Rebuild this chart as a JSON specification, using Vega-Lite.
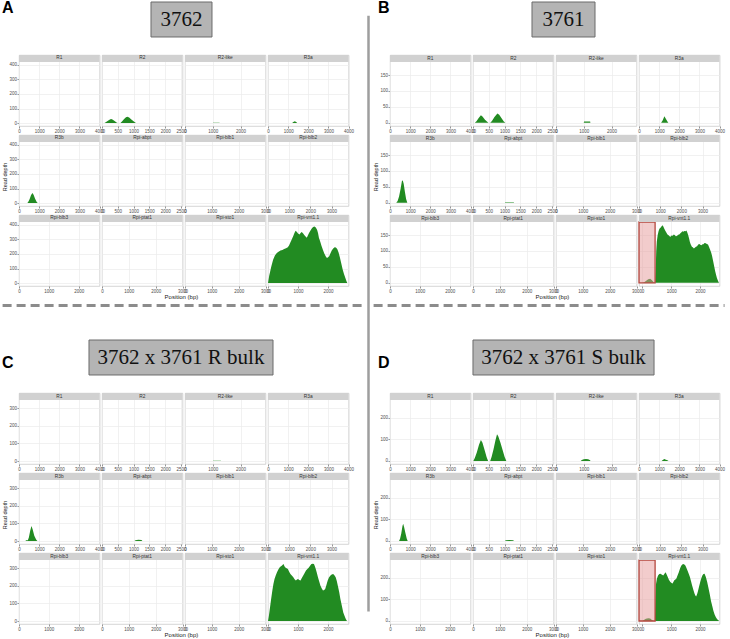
{
"$schema": "https://vega.github.io/schema/vega-lite/v6.json",
"padding": {"left": 1, "top": 0, "right": 0, "bottom": 0},
"background": "white",
"datasets": {
"A": [
{"gene":"R1","pos":0,"depth":0},{"gene":"R1","pos":4000,"depth":0},
{"gene":"R2","pos":0,"depth":0},{"gene":"R2","pos":80,"depth":0},{"gene":"R2","pos":130,"depth":8},{"gene":"R2","pos":200,"depth":18},{"gene":"R2","pos":250,"depth":25},{"gene":"R2","pos":287,"depth":28},{"gene":"R2","pos":330,"depth":25},{"gene":"R2","pos":400,"depth":14},{"gene":"R2","pos":460,"depth":4},{"gene":"R2","pos":494,"depth":0},{"gene":"R2","pos":586,"depth":0},{"gene":"R2","pos":640,"depth":12},{"gene":"R2","pos":700,"depth":28},{"gene":"R2","pos":760,"depth":40},{"gene":"R2","pos":805,"depth":43},{"gene":"R2","pos":860,"depth":38},{"gene":"R2","pos":930,"depth":25},{"gene":"R2","pos":1000,"depth":12},{"gene":"R2","pos":1060,"depth":3},{"gene":"R2","pos":1092,"depth":0},{"gene":"R2","pos":2550,"depth":0},
{"gene":"R2-like","pos":0,"depth":0},{"gene":"R2-like","pos":1000,"depth":0},{"gene":"R2-like","pos":1010,"depth":2},{"gene":"R2-like","pos":1240,"depth":2},{"gene":"R2-like","pos":1250,"depth":0},{"gene":"R2-like","pos":2900,"depth":0},
{"gene":"R3a","pos":0,"depth":0},{"gene":"R3a","pos":1200,"depth":0},{"gene":"R3a","pos":1260,"depth":8},{"gene":"R3a","pos":1330,"depth":13},{"gene":"R3a","pos":1400,"depth":8},{"gene":"R3a","pos":1450,"depth":0},{"gene":"R3a","pos":4000,"depth":0},
{"gene":"R3b","pos":0,"depth":0},{"gene":"R3b","pos":410,"depth":0},{"gene":"R3b","pos":450,"depth":5},{"gene":"R3b","pos":520,"depth":25},{"gene":"R3b","pos":600,"depth":55},{"gene":"R3b","pos":670,"depth":69},{"gene":"R3b","pos":730,"depth":55},{"gene":"R3b","pos":800,"depth":30},{"gene":"R3b","pos":880,"depth":8},{"gene":"R3b","pos":930,"depth":0},{"gene":"R3b","pos":4000,"depth":0},
{"gene":"Rpi-abpt","pos":0,"depth":0},{"gene":"Rpi-abpt","pos":2550,"depth":0},
{"gene":"Rpi-blb1","pos":0,"depth":0},{"gene":"Rpi-blb1","pos":3000,"depth":0},
{"gene":"Rpi-blb2","pos":0,"depth":0},{"gene":"Rpi-blb2","pos":3800,"depth":0},
{"gene":"Rpi-blb3","pos":0,"depth":0},{"gene":"Rpi-blb3","pos":2700,"depth":0},
{"gene":"Rpi-ptat1","pos":0,"depth":0},{"gene":"Rpi-ptat1","pos":3000,"depth":0},
{"gene":"Rpi-sto1","pos":0,"depth":0},{"gene":"Rpi-sto1","pos":3000,"depth":0},
{"gene":"Rpi-vnt1.1","pos":0,"depth":0},{"gene":"Rpi-vnt1.1","pos":40,"depth":50},{"gene":"Rpi-vnt1.1","pos":110,"depth":114},{"gene":"Rpi-vnt1.1","pos":170,"depth":160},{"gene":"Rpi-vnt1.1","pos":230,"depth":190},{"gene":"Rpi-vnt1.1","pos":293,"depth":207},{"gene":"Rpi-vnt1.1","pos":350,"depth":215},{"gene":"Rpi-vnt1.1","pos":415,"depth":224},{"gene":"Rpi-vnt1.1","pos":480,"depth":228},{"gene":"Rpi-vnt1.1","pos":537,"depth":235},{"gene":"Rpi-vnt1.1","pos":600,"depth":240},{"gene":"Rpi-vnt1.1","pos":660,"depth":246},{"gene":"Rpi-vnt1.1","pos":700,"depth":258},{"gene":"Rpi-vnt1.1","pos":744,"depth":279},{"gene":"Rpi-vnt1.1","pos":790,"depth":300},{"gene":"Rpi-vnt1.1","pos":841,"depth":323},{"gene":"Rpi-vnt1.1","pos":880,"depth":345},{"gene":"Rpi-vnt1.1","pos":920,"depth":360},{"gene":"Rpi-vnt1.1","pos":963,"depth":352},{"gene":"Rpi-vnt1.1","pos":1000,"depth":340},{"gene":"Rpi-vnt1.1","pos":1049,"depth":334},{"gene":"Rpi-vnt1.1","pos":1085,"depth":345},{"gene":"Rpi-vnt1.1","pos":1122,"depth":352},{"gene":"Rpi-vnt1.1","pos":1165,"depth":342},{"gene":"Rpi-vnt1.1","pos":1207,"depth":330},{"gene":"Rpi-vnt1.1","pos":1250,"depth":320},{"gene":"Rpi-vnt1.1","pos":1293,"depth":312},{"gene":"Rpi-vnt1.1","pos":1330,"depth":328},{"gene":"Rpi-vnt1.1","pos":1366,"depth":345},{"gene":"Rpi-vnt1.1","pos":1410,"depth":360},{"gene":"Rpi-vnt1.1","pos":1451,"depth":374},{"gene":"Rpi-vnt1.1","pos":1500,"depth":385},{"gene":"Rpi-vnt1.1","pos":1549,"depth":389},{"gene":"Rpi-vnt1.1","pos":1590,"depth":382},{"gene":"Rpi-vnt1.1","pos":1634,"depth":367},{"gene":"Rpi-vnt1.1","pos":1665,"depth":345},{"gene":"Rpi-vnt1.1","pos":1695,"depth":312},{"gene":"Rpi-vnt1.1","pos":1740,"depth":285},{"gene":"Rpi-vnt1.1","pos":1780,"depth":257},{"gene":"Rpi-vnt1.1","pos":1830,"depth":228},{"gene":"Rpi-vnt1.1","pos":1878,"depth":202},{"gene":"Rpi-vnt1.1","pos":1920,"depth":185},{"gene":"Rpi-vnt1.1","pos":1963,"depth":172},{"gene":"Rpi-vnt1.1","pos":2000,"depth":178},{"gene":"Rpi-vnt1.1","pos":2037,"depth":185},{"gene":"Rpi-vnt1.1","pos":2080,"depth":205},{"gene":"Rpi-vnt1.1","pos":2122,"depth":224},{"gene":"Rpi-vnt1.1","pos":2170,"depth":238},{"gene":"Rpi-vnt1.1","pos":2220,"depth":246},{"gene":"Rpi-vnt1.1","pos":2260,"depth":244},{"gene":"Rpi-vnt1.1","pos":2305,"depth":235},{"gene":"Rpi-vnt1.1","pos":2350,"depth":210},{"gene":"Rpi-vnt1.1","pos":2390,"depth":180},{"gene":"Rpi-vnt1.1","pos":2440,"depth":135},{"gene":"Rpi-vnt1.1","pos":2488,"depth":92},{"gene":"Rpi-vnt1.1","pos":2530,"depth":62},{"gene":"Rpi-vnt1.1","pos":2573,"depth":37},{"gene":"Rpi-vnt1.1","pos":2610,"depth":15},{"gene":"Rpi-vnt1.1","pos":2640,"depth":0},{"gene":"Rpi-vnt1.1","pos":2680,"depth":0}
],
"B": [
{"gene":"R1","pos":0,"depth":0},{"gene":"R1","pos":4000,"depth":0},
{"gene":"R2","pos":0,"depth":0},{"gene":"R2","pos":57,"depth":0},{"gene":"R2","pos":110,"depth":5},{"gene":"R2","pos":180,"depth":15},{"gene":"R2","pos":250,"depth":24},{"gene":"R2","pos":300,"depth":20},{"gene":"R2","pos":380,"depth":10},{"gene":"R2","pos":450,"depth":3},{"gene":"R2","pos":489,"depth":0},{"gene":"R2","pos":545,"depth":0},{"gene":"R2","pos":600,"depth":6},{"gene":"R2","pos":680,"depth":18},{"gene":"R2","pos":773,"depth":29},{"gene":"R2","pos":830,"depth":25},{"gene":"R2","pos":900,"depth":15},{"gene":"R2","pos":970,"depth":5},{"gene":"R2","pos":1023,"depth":0},{"gene":"R2","pos":2550,"depth":0},
{"gene":"R2-like","pos":0,"depth":0},{"gene":"R2-like","pos":1000,"depth":0},{"gene":"R2-like","pos":1010,"depth":4},{"gene":"R2-like","pos":1230,"depth":4},{"gene":"R2-like","pos":1240,"depth":0},{"gene":"R2-like","pos":2900,"depth":0},
{"gene":"R3a","pos":0,"depth":0},{"gene":"R3a","pos":1100,"depth":0},{"gene":"R3a","pos":1180,"depth":8},{"gene":"R3a","pos":1260,"depth":21},{"gene":"R3a","pos":1340,"depth":12},{"gene":"R3a","pos":1420,"depth":3},{"gene":"R3a","pos":1460,"depth":0},{"gene":"R3a","pos":4000,"depth":0},
{"gene":"R3b","pos":0,"depth":0},{"gene":"R3b","pos":310,"depth":0},{"gene":"R3b","pos":380,"depth":6},{"gene":"R3b","pos":450,"depth":20},{"gene":"R3b","pos":530,"depth":45},{"gene":"R3b","pos":590,"depth":68},{"gene":"R3b","pos":630,"depth":71},{"gene":"R3b","pos":680,"depth":60},{"gene":"R3b","pos":740,"depth":35},{"gene":"R3b","pos":800,"depth":12},{"gene":"R3b","pos":860,"depth":0},{"gene":"R3b","pos":4000,"depth":0},
{"gene":"Rpi-abpt","pos":0,"depth":0},{"gene":"Rpi-abpt","pos":1010,"depth":0},{"gene":"Rpi-abpt","pos":1020,"depth":2},{"gene":"Rpi-abpt","pos":1290,"depth":2},{"gene":"Rpi-abpt","pos":1300,"depth":0},{"gene":"Rpi-abpt","pos":2550,"depth":0},
{"gene":"Rpi-blb1","pos":0,"depth":0},{"gene":"Rpi-blb1","pos":3000,"depth":0},
{"gene":"Rpi-blb2","pos":0,"depth":0},{"gene":"Rpi-blb2","pos":3800,"depth":0},
{"gene":"Rpi-blb3","pos":0,"depth":0},{"gene":"Rpi-blb3","pos":2700,"depth":0},
{"gene":"Rpi-ptat1","pos":0,"depth":0},{"gene":"Rpi-ptat1","pos":3000,"depth":0},
{"gene":"Rpi-sto1","pos":0,"depth":0},{"gene":"Rpi-sto1","pos":3000,"depth":0},
{"gene":"Rpi-vnt1.1","pos":-120,"pos2":440},
{"gene":"Rpi-vnt1.1","pos":0,"depth":0},{"gene":"Rpi-vnt1.1","pos":60,"depth":2},{"gene":"Rpi-vnt1.1","pos":120,"depth":6},{"gene":"Rpi-vnt1.1","pos":200,"depth":11},{"gene":"Rpi-vnt1.1","pos":270,"depth":13},{"gene":"Rpi-vnt1.1","pos":330,"depth":8},{"gene":"Rpi-vnt1.1","pos":400,"depth":1},{"gene":"Rpi-vnt1.1","pos":440,"depth":0},{"gene":"Rpi-vnt1.1","pos":460,"depth":40},{"gene":"Rpi-vnt1.1","pos":480,"depth":100},{"gene":"Rpi-vnt1.1","pos":500,"depth":130},{"gene":"Rpi-vnt1.1","pos":530,"depth":150},{"gene":"Rpi-vnt1.1","pos":560,"depth":162},{"gene":"Rpi-vnt1.1","pos":590,"depth":170},{"gene":"Rpi-vnt1.1","pos":620,"depth":172},{"gene":"Rpi-vnt1.1","pos":660,"depth":177},{"gene":"Rpi-vnt1.1","pos":700,"depth":181},{"gene":"Rpi-vnt1.1","pos":730,"depth":176},{"gene":"Rpi-vnt1.1","pos":760,"depth":170},{"gene":"Rpi-vnt1.1","pos":800,"depth":163},{"gene":"Rpi-vnt1.1","pos":830,"depth":158},{"gene":"Rpi-vnt1.1","pos":870,"depth":152},{"gene":"Rpi-vnt1.1","pos":900,"depth":150},{"gene":"Rpi-vnt1.1","pos":940,"depth":146},{"gene":"Rpi-vnt1.1","pos":980,"depth":145},{"gene":"Rpi-vnt1.1","pos":1010,"depth":149},{"gene":"Rpi-vnt1.1","pos":1050,"depth":148},{"gene":"Rpi-vnt1.1","pos":1090,"depth":152},{"gene":"Rpi-vnt1.1","pos":1120,"depth":150},{"gene":"Rpi-vnt1.1","pos":1160,"depth":146},{"gene":"Rpi-vnt1.1","pos":1200,"depth":147},{"gene":"Rpi-vnt1.1","pos":1240,"depth":151},{"gene":"Rpi-vnt1.1","pos":1280,"depth":152},{"gene":"Rpi-vnt1.1","pos":1320,"depth":156},{"gene":"Rpi-vnt1.1","pos":1350,"depth":158},{"gene":"Rpi-vnt1.1","pos":1390,"depth":162},{"gene":"Rpi-vnt1.1","pos":1420,"depth":160},{"gene":"Rpi-vnt1.1","pos":1460,"depth":163},{"gene":"Rpi-vnt1.1","pos":1500,"depth":162},{"gene":"Rpi-vnt1.1","pos":1530,"depth":164},{"gene":"Rpi-vnt1.1","pos":1560,"depth":158},{"gene":"Rpi-vnt1.1","pos":1590,"depth":150},{"gene":"Rpi-vnt1.1","pos":1620,"depth":140},{"gene":"Rpi-vnt1.1","pos":1650,"depth":128},{"gene":"Rpi-vnt1.1","pos":1680,"depth":120},{"gene":"Rpi-vnt1.1","pos":1720,"depth":113},{"gene":"Rpi-vnt1.1","pos":1750,"depth":112},{"gene":"Rpi-vnt1.1","pos":1790,"depth":108},{"gene":"Rpi-vnt1.1","pos":1820,"depth":110},{"gene":"Rpi-vnt1.1","pos":1860,"depth":113},{"gene":"Rpi-vnt1.1","pos":1900,"depth":115},{"gene":"Rpi-vnt1.1","pos":1940,"depth":120},{"gene":"Rpi-vnt1.1","pos":1980,"depth":122},{"gene":"Rpi-vnt1.1","pos":2020,"depth":119},{"gene":"Rpi-vnt1.1","pos":2050,"depth":118},{"gene":"Rpi-vnt1.1","pos":2090,"depth":121},{"gene":"Rpi-vnt1.1","pos":2120,"depth":121},{"gene":"Rpi-vnt1.1","pos":2160,"depth":125},{"gene":"Rpi-vnt1.1","pos":2200,"depth":124},{"gene":"Rpi-vnt1.1","pos":2240,"depth":122},{"gene":"Rpi-vnt1.1","pos":2280,"depth":120},{"gene":"Rpi-vnt1.1","pos":2320,"depth":112},{"gene":"Rpi-vnt1.1","pos":2350,"depth":105},{"gene":"Rpi-vnt1.1","pos":2390,"depth":95},{"gene":"Rpi-vnt1.1","pos":2420,"depth":85},{"gene":"Rpi-vnt1.1","pos":2460,"depth":68},{"gene":"Rpi-vnt1.1","pos":2500,"depth":50},{"gene":"Rpi-vnt1.1","pos":2530,"depth":36},{"gene":"Rpi-vnt1.1","pos":2560,"depth":25},{"gene":"Rpi-vnt1.1","pos":2590,"depth":15},{"gene":"Rpi-vnt1.1","pos":2620,"depth":8},{"gene":"Rpi-vnt1.1","pos":2650,"depth":2},{"gene":"Rpi-vnt1.1","pos":2670,"depth":0},{"gene":"Rpi-vnt1.1","pos":2680,"depth":0}
],
"C": [
{"gene":"R1","pos":0,"depth":0},{"gene":"R1","pos":4000,"depth":0},
{"gene":"R2","pos":0,"depth":0},{"gene":"R2","pos":2550,"depth":0},
{"gene":"R2-like","pos":0,"depth":0},{"gene":"R2-like","pos":1000,"depth":0},{"gene":"R2-like","pos":1010,"depth":2},{"gene":"R2-like","pos":1290,"depth":2},{"gene":"R2-like","pos":1300,"depth":0},{"gene":"R2-like","pos":2900,"depth":0},
{"gene":"R3a","pos":0,"depth":0},{"gene":"R3a","pos":4000,"depth":0},
{"gene":"R3b","pos":0,"depth":0},{"gene":"R3b","pos":330,"depth":0},{"gene":"R3b","pos":340,"depth":5},{"gene":"R3b","pos":440,"depth":5},{"gene":"R3b","pos":490,"depth":20},{"gene":"R3b","pos":560,"depth":60},{"gene":"R3b","pos":620,"depth":85},{"gene":"R3b","pos":680,"depth":65},{"gene":"R3b","pos":760,"depth":30},{"gene":"R3b","pos":850,"depth":8},{"gene":"R3b","pos":914,"depth":0},{"gene":"R3b","pos":4000,"depth":0},
{"gene":"Rpi-abpt","pos":0,"depth":0},{"gene":"Rpi-abpt","pos":1030,"depth":0},{"gene":"Rpi-abpt","pos":1060,"depth":5},{"gene":"Rpi-abpt","pos":1150,"depth":7},{"gene":"Rpi-abpt","pos":1250,"depth":6},{"gene":"Rpi-abpt","pos":1280,"depth":0},{"gene":"Rpi-abpt","pos":2550,"depth":0},
{"gene":"Rpi-blb1","pos":0,"depth":0},{"gene":"Rpi-blb1","pos":3000,"depth":0},
{"gene":"Rpi-blb2","pos":0,"depth":0},{"gene":"Rpi-blb2","pos":3800,"depth":0},
{"gene":"Rpi-blb3","pos":0,"depth":0},{"gene":"Rpi-blb3","pos":2700,"depth":0},
{"gene":"Rpi-ptat1","pos":0,"depth":0},{"gene":"Rpi-ptat1","pos":3000,"depth":0},
{"gene":"Rpi-sto1","pos":0,"depth":0},{"gene":"Rpi-sto1","pos":3000,"depth":0},
{"gene":"Rpi-vnt1.1","pos":0,"depth":0},{"gene":"Rpi-vnt1.1","pos":30,"depth":30},{"gene":"Rpi-vnt1.1","pos":60,"depth":68},{"gene":"Rpi-vnt1.1","pos":100,"depth":120},{"gene":"Rpi-vnt1.1","pos":145,"depth":173},{"gene":"Rpi-vnt1.1","pos":180,"depth":210},{"gene":"Rpi-vnt1.1","pos":217,"depth":239},{"gene":"Rpi-vnt1.1","pos":260,"depth":260},{"gene":"Rpi-vnt1.1","pos":300,"depth":277},{"gene":"Rpi-vnt1.1","pos":340,"depth":292},{"gene":"Rpi-vnt1.1","pos":385,"depth":305},{"gene":"Rpi-vnt1.1","pos":420,"depth":310},{"gene":"Rpi-vnt1.1","pos":458,"depth":315},{"gene":"Rpi-vnt1.1","pos":490,"depth":320},{"gene":"Rpi-vnt1.1","pos":518,"depth":324},{"gene":"Rpi-vnt1.1","pos":548,"depth":312},{"gene":"Rpi-vnt1.1","pos":578,"depth":305},{"gene":"Rpi-vnt1.1","pos":620,"depth":300},{"gene":"Rpi-vnt1.1","pos":663,"depth":296},{"gene":"Rpi-vnt1.1","pos":700,"depth":282},{"gene":"Rpi-vnt1.1","pos":747,"depth":268},{"gene":"Rpi-vnt1.1","pos":800,"depth":258},{"gene":"Rpi-vnt1.1","pos":843,"depth":249},{"gene":"Rpi-vnt1.1","pos":885,"depth":238},{"gene":"Rpi-vnt1.1","pos":928,"depth":230},{"gene":"Rpi-vnt1.1","pos":965,"depth":236},{"gene":"Rpi-vnt1.1","pos":1000,"depth":239},{"gene":"Rpi-vnt1.1","pos":1040,"depth":233},{"gene":"Rpi-vnt1.1","pos":1084,"depth":230},{"gene":"Rpi-vnt1.1","pos":1125,"depth":245},{"gene":"Rpi-vnt1.1","pos":1169,"depth":258},{"gene":"Rpi-vnt1.1","pos":1215,"depth":272},{"gene":"Rpi-vnt1.1","pos":1265,"depth":287},{"gene":"Rpi-vnt1.1","pos":1310,"depth":296},{"gene":"Rpi-vnt1.1","pos":1361,"depth":305},{"gene":"Rpi-vnt1.1","pos":1400,"depth":315},{"gene":"Rpi-vnt1.1","pos":1446,"depth":324},{"gene":"Rpi-vnt1.1","pos":1490,"depth":326},{"gene":"Rpi-vnt1.1","pos":1530,"depth":324},{"gene":"Rpi-vnt1.1","pos":1560,"depth":312},{"gene":"Rpi-vnt1.1","pos":1590,"depth":296},{"gene":"Rpi-vnt1.1","pos":1625,"depth":275},{"gene":"Rpi-vnt1.1","pos":1663,"depth":249},{"gene":"Rpi-vnt1.1","pos":1705,"depth":225},{"gene":"Rpi-vnt1.1","pos":1747,"depth":201},{"gene":"Rpi-vnt1.1","pos":1790,"depth":185},{"gene":"Rpi-vnt1.1","pos":1831,"depth":173},{"gene":"Rpi-vnt1.1","pos":1870,"depth":176},{"gene":"Rpi-vnt1.1","pos":1904,"depth":182},{"gene":"Rpi-vnt1.1","pos":1945,"depth":205},{"gene":"Rpi-vnt1.1","pos":1988,"depth":230},{"gene":"Rpi-vnt1.1","pos":2030,"depth":247},{"gene":"Rpi-vnt1.1","pos":2072,"depth":258},{"gene":"Rpi-vnt1.1","pos":2120,"depth":264},{"gene":"Rpi-vnt1.1","pos":2169,"depth":268},{"gene":"Rpi-vnt1.1","pos":2210,"depth":260},{"gene":"Rpi-vnt1.1","pos":2253,"depth":249},{"gene":"Rpi-vnt1.1","pos":2290,"depth":228},{"gene":"Rpi-vnt1.1","pos":2325,"depth":201},{"gene":"Rpi-vnt1.1","pos":2370,"depth":165},{"gene":"Rpi-vnt1.1","pos":2410,"depth":125},{"gene":"Rpi-vnt1.1","pos":2460,"depth":85},{"gene":"Rpi-vnt1.1","pos":2506,"depth":49},{"gene":"Rpi-vnt1.1","pos":2550,"depth":28},{"gene":"Rpi-vnt1.1","pos":2590,"depth":11},{"gene":"Rpi-vnt1.1","pos":2630,"depth":0},{"gene":"Rpi-vnt1.1","pos":2680,"depth":0}
],
"D": [
{"gene":"R1","pos":0,"depth":0},{"gene":"R1","pos":4000,"depth":0},
{"gene":"R2","pos":0,"depth":0},{"gene":"R2","pos":11,"depth":0},{"gene":"R2","pos":60,"depth":15},{"gene":"R2","pos":120,"depth":40},{"gene":"R2","pos":190,"depth":75},{"gene":"R2","pos":250,"depth":97},{"gene":"R2","pos":300,"depth":85},{"gene":"R2","pos":370,"depth":50},{"gene":"R2","pos":430,"depth":18},{"gene":"R2","pos":478,"depth":0},{"gene":"R2","pos":545,"depth":0},{"gene":"R2","pos":590,"depth":20},{"gene":"R2","pos":650,"depth":55},{"gene":"R2","pos":710,"depth":95},{"gene":"R2","pos":761,"depth":124},{"gene":"R2","pos":800,"depth":115},{"gene":"R2","pos":870,"depth":85},{"gene":"R2","pos":940,"depth":50},{"gene":"R2","pos":1000,"depth":20},{"gene":"R2","pos":1056,"depth":0},{"gene":"R2","pos":2550,"depth":0},
{"gene":"R2-like","pos":0,"depth":0},{"gene":"R2-like","pos":890,"depth":0},{"gene":"R2-like","pos":930,"depth":5},{"gene":"R2-like","pos":1000,"depth":8},{"gene":"R2-like","pos":1080,"depth":9},{"gene":"R2-like","pos":1160,"depth":8},{"gene":"R2-like","pos":1230,"depth":4},{"gene":"R2-like","pos":1240,"depth":0},{"gene":"R2-like","pos":2900,"depth":0},
{"gene":"R3a","pos":0,"depth":0},{"gene":"R3a","pos":1126,"depth":0},{"gene":"R3a","pos":1180,"depth":5},{"gene":"R3a","pos":1260,"depth":9},{"gene":"R3a","pos":1340,"depth":6},{"gene":"R3a","pos":1440,"depth":2},{"gene":"R3a","pos":1462,"depth":0},{"gene":"R3a","pos":4000,"depth":0},
{"gene":"R3b","pos":0,"depth":0},{"gene":"R3b","pos":448,"depth":0},{"gene":"R3b","pos":500,"depth":10},{"gene":"R3b","pos":560,"depth":35},{"gene":"R3b","pos":620,"depth":70},{"gene":"R3b","pos":655,"depth":80},{"gene":"R3b","pos":700,"depth":65},{"gene":"R3b","pos":760,"depth":40},{"gene":"R3b","pos":830,"depth":12},{"gene":"R3b","pos":880,"depth":0},{"gene":"R3b","pos":4000,"depth":0},
{"gene":"Rpi-abpt","pos":0,"depth":0},{"gene":"Rpi-abpt","pos":1010,"depth":0},{"gene":"Rpi-abpt","pos":1040,"depth":4},{"gene":"Rpi-abpt","pos":1150,"depth":5},{"gene":"Rpi-abpt","pos":1270,"depth":4},{"gene":"Rpi-abpt","pos":1300,"depth":0},{"gene":"Rpi-abpt","pos":2550,"depth":0},
{"gene":"Rpi-blb1","pos":0,"depth":0},{"gene":"Rpi-blb1","pos":3000,"depth":0},
{"gene":"Rpi-blb2","pos":0,"depth":0},{"gene":"Rpi-blb2","pos":3800,"depth":0},
{"gene":"Rpi-blb3","pos":0,"depth":0},{"gene":"Rpi-blb3","pos":2700,"depth":0},
{"gene":"Rpi-ptat1","pos":0,"depth":0},{"gene":"Rpi-ptat1","pos":3000,"depth":0},
{"gene":"Rpi-sto1","pos":0,"depth":0},{"gene":"Rpi-sto1","pos":3000,"depth":0},
{"gene":"Rpi-vnt1.1","pos":-120,"pos2":440},
{"gene":"Rpi-vnt1.1","pos":0,"depth":0},{"gene":"Rpi-vnt1.1","pos":50,"depth":5},{"gene":"Rpi-vnt1.1","pos":120,"depth":10},{"gene":"Rpi-vnt1.1","pos":200,"depth":13},{"gene":"Rpi-vnt1.1","pos":270,"depth":11},{"gene":"Rpi-vnt1.1","pos":330,"depth":5},{"gene":"Rpi-vnt1.1","pos":400,"depth":0},{"gene":"Rpi-vnt1.1","pos":430,"depth":0},{"gene":"Rpi-vnt1.1","pos":450,"depth":90},{"gene":"Rpi-vnt1.1","pos":470,"depth":170},{"gene":"Rpi-vnt1.1","pos":500,"depth":195},{"gene":"Rpi-vnt1.1","pos":542,"depth":212},{"gene":"Rpi-vnt1.1","pos":585,"depth":218},{"gene":"Rpi-vnt1.1","pos":627,"depth":220},{"gene":"Rpi-vnt1.1","pos":680,"depth":215},{"gene":"Rpi-vnt1.1","pos":723,"depth":212},{"gene":"Rpi-vnt1.1","pos":765,"depth":220},{"gene":"Rpi-vnt1.1","pos":807,"depth":227},{"gene":"Rpi-vnt1.1","pos":845,"depth":215},{"gene":"Rpi-vnt1.1","pos":880,"depth":205},{"gene":"Rpi-vnt1.1","pos":920,"depth":192},{"gene":"Rpi-vnt1.1","pos":964,"depth":182},{"gene":"Rpi-vnt1.1","pos":1010,"depth":176},{"gene":"Rpi-vnt1.1","pos":1048,"depth":174},{"gene":"Rpi-vnt1.1","pos":1080,"depth":182},{"gene":"Rpi-vnt1.1","pos":1108,"depth":189},{"gene":"Rpi-vnt1.1","pos":1145,"depth":193},{"gene":"Rpi-vnt1.1","pos":1181,"depth":197},{"gene":"Rpi-vnt1.1","pos":1220,"depth":212},{"gene":"Rpi-vnt1.1","pos":1265,"depth":227},{"gene":"Rpi-vnt1.1","pos":1310,"depth":245},{"gene":"Rpi-vnt1.1","pos":1349,"depth":257},{"gene":"Rpi-vnt1.1","pos":1385,"depth":262},{"gene":"Rpi-vnt1.1","pos":1422,"depth":265},{"gene":"Rpi-vnt1.1","pos":1450,"depth":263},{"gene":"Rpi-vnt1.1","pos":1482,"depth":260},{"gene":"Rpi-vnt1.1","pos":1520,"depth":250},{"gene":"Rpi-vnt1.1","pos":1566,"depth":235},{"gene":"Rpi-vnt1.1","pos":1610,"depth":220},{"gene":"Rpi-vnt1.1","pos":1651,"depth":205},{"gene":"Rpi-vnt1.1","pos":1690,"depth":185},{"gene":"Rpi-vnt1.1","pos":1723,"depth":167},{"gene":"Rpi-vnt1.1","pos":1765,"depth":148},{"gene":"Rpi-vnt1.1","pos":1807,"depth":129},{"gene":"Rpi-vnt1.1","pos":1840,"depth":118},{"gene":"Rpi-vnt1.1","pos":1867,"depth":114},{"gene":"Rpi-vnt1.1","pos":1900,"depth":124},{"gene":"Rpi-vnt1.1","pos":1928,"depth":137},{"gene":"Rpi-vnt1.1","pos":1970,"depth":160},{"gene":"Rpi-vnt1.1","pos":2012,"depth":182},{"gene":"Rpi-vnt1.1","pos":2050,"depth":200},{"gene":"Rpi-vnt1.1","pos":2084,"depth":212},{"gene":"Rpi-vnt1.1","pos":2120,"depth":218},{"gene":"Rpi-vnt1.1","pos":2160,"depth":220},{"gene":"Rpi-vnt1.1","pos":2205,"depth":205},{"gene":"Rpi-vnt1.1","pos":2250,"depth":182},{"gene":"Rpi-vnt1.1","pos":2289,"depth":158},{"gene":"Rpi-vnt1.1","pos":2340,"depth":125},{"gene":"Rpi-vnt1.1","pos":2386,"depth":92},{"gene":"Rpi-vnt1.1","pos":2430,"depth":68},{"gene":"Rpi-vnt1.1","pos":2470,"depth":47},{"gene":"Rpi-vnt1.1","pos":2510,"depth":30},{"gene":"Rpi-vnt1.1","pos":2554,"depth":17},{"gene":"Rpi-vnt1.1","pos":2600,"depth":8},{"gene":"Rpi-vnt1.1","pos":2640,"depth":3},{"gene":"Rpi-vnt1.1","pos":2670,"depth":0},{"gene":"Rpi-vnt1.1","pos":2680,"depth":0}
]
},
"hconcat": [
{
"vconcat": [
{
"vconcat": [
{
"data": {"values": [{}]},
"width": 328, "height": 36, "view": {"stroke": null},
"layer": [
{"mark": {"type": "rect", "fill": "#b4b4b4", "stroke": "#6b6b6b", "strokeWidth": 1},
 "encoding": {"x": {"datum": 0.4024, "type": "quantitative", "scale": {"domain": [0, 1]}, "axis": null}, "x2": {"datum": 0.5884},
  "y": {"datum": 0.028, "type": "quantitative", "scale": {"domain": [0, 1]}, "axis": null}, "y2": {"datum": 1}}},
{"mark": {"type": "text", "font": "Liberation Serif", "fontSize": 21, "color": "#111111", "baseline": "middle"},
 "encoding": {"text": {"value": "3762"}, "x": {"datum": 0.4954, "type": "quantitative"}, "y": {"datum": 0.5, "type": "quantitative"}}},
{"mark": {"type": "text", "font": "Liberation Sans", "fontWeight": "bold", "fontSize": 16, "align": "left", "baseline": "middle", "color": "#000000"},
 "encoding": {"text": {"value": "A"}, "x": {"datum": -0.052, "type": "quantitative"}, "y": {"datum": 0.82, "type": "quantitative"}}}
]
},
{
"hconcat": [
{
"data": {"name": "A"},
"facet": {"field": "gene", "type": "nominal", "header": {"labels": false, "title": null, "labelExpr": "''", "labelFontSize": 1, "labelPadding": 0}, "sort": ["R1","R2","R2-like","R3a","R3b","Rpi-abpt","Rpi-blb1","Rpi-blb2","Rpi-blb3","Rpi-ptat1","Rpi-sto1","Rpi-vnt1.1"]},
"columns": 4,
"bounds": "flush",
"spacing": {"row": 9, "column": 2},
"resolve": {"scale": {"x": "independent"}},
"title": {"text": "Position (bp)", "orient": "bottom", "anchor": "middle", "frame": "bounds", "fontSize": 6, "fontWeight": "normal", "offset": 1, "color": "#1a1a1a"},
"spec": {
"width": 80.5, "height": 71,
"layer": [
{"transform": [{"filter": "!isValid(datum.pos2)"}],
 "mark": {"type": "area", "color": "#228B22", "opacity": 1},
 "encoding": {
  "x": {"field": "pos", "type": "quantitative", "scale": {"nice": false, "zero": false}, "axis": {"title": null, "format": "d", "tickCount": 3.7, "labelFlush": false, "labelOverlap": false, "grid": true}},
  "y": {"field": "depth", "type": "quantitative", "stack": null, "scale": {"domain": [-20, 468], "nice": false}, "axis": {"values": [0, 100, 200, 300, 400], "tickCount": 10, "title": null, "grid": true}}
 }},
{"transform": [{"aggregate": [{"op": "count", "as": "n"}], "groupby": ["gene"]}],
 "mark": {"type": "rect", "fill": "#d1d1d1"},
 "encoding": {"y": {"datum": 420}, "y2": {"datum": 468}}},
{"transform": [{"aggregate": [{"op": "count", "as": "n"}], "groupby": ["gene"]}],
 "mark": {"type": "text", "fontSize": 4.8, "color": "#333333", "baseline": "middle"},
 "encoding": {"text": {"field": "gene", "type": "nominal"}, "y": {"datum": 444}}}
]
}
}
],
"title": {"text": "Read depth", "orient": "left", "anchor": "middle", "fontSize": 5.5, "fontWeight": "normal", "offset": 0, "color": "#1a1a1a"}
}
],
"spacing": 15
},
{
"data": {"values": [{}]},
"width": 328, "height": 36, "view": {"stroke": null},
"mark": {"type": "rule", "color": "#8c8c8c", "strokeWidth": 3, "strokeDash": [9, 5]},
"encoding": {"x": {"datum": -0.05, "type": "quantitative", "scale": {"domain": [0, 1]}, "axis": null}, "x2": {"datum": 1.05},
 "y": {"datum": 0.9, "type": "quantitative", "scale": {"domain": [0, 1]}, "axis": null}}
},
{
"vconcat": [
{
"data": {"values": [{}]},
"width": 328, "height": 36, "view": {"stroke": null},
"layer": [
{"mark": {"type": "rect", "fill": "#b4b4b4", "stroke": "#6b6b6b", "strokeWidth": 1},
 "encoding": {"x": {"datum": 0.2134, "type": "quantitative", "scale": {"domain": [0, 1]}, "axis": null}, "x2": {"datum": 0.7744},
  "y": {"datum": 0.028, "type": "quantitative", "scale": {"domain": [0, 1]}, "axis": null}, "y2": {"datum": 1}}},
{"mark": {"type": "text", "font": "Liberation Serif", "fontSize": 21, "color": "#111111", "baseline": "middle"},
 "encoding": {"text": {"value": "3762 x 3761 R bulk"}, "x": {"datum": 0.4939, "type": "quantitative"}, "y": {"datum": 0.5, "type": "quantitative"}}},
{"mark": {"type": "text", "font": "Liberation Sans", "fontWeight": "bold", "fontSize": 16, "align": "left", "baseline": "middle", "color": "#000000"},
 "encoding": {"text": {"value": "C"}, "x": {"datum": -0.052, "type": "quantitative"}, "y": {"datum": 0.35, "type": "quantitative"}}}
]
},
{
"hconcat": [
{
"data": {"name": "C"},
"facet": {"field": "gene", "type": "nominal", "header": {"labels": false, "title": null, "labelExpr": "''", "labelFontSize": 1, "labelPadding": 0}, "sort": ["R1","R2","R2-like","R3a","R3b","Rpi-abpt","Rpi-blb1","Rpi-blb2","Rpi-blb3","Rpi-ptat1","Rpi-sto1","Rpi-vnt1.1"]},
"columns": 4,
"bounds": "flush",
"spacing": {"row": 9, "column": 2},
"resolve": {"scale": {"x": "independent"}},
"title": {"text": "Position (bp)", "orient": "bottom", "anchor": "middle", "frame": "bounds", "fontSize": 6, "fontWeight": "normal", "offset": 1, "color": "#1a1a1a"},
"spec": {
"width": 80.5, "height": 71,
"layer": [
{"transform": [{"filter": "!isValid(datum.pos2)"}],
 "mark": {"type": "area", "color": "#228B22", "opacity": 1},
 "encoding": {
  "x": {"field": "pos", "type": "quantitative", "scale": {"nice": false, "zero": false}, "axis": {"title": null, "format": "d", "tickCount": 3.7, "labelFlush": false, "labelOverlap": false, "grid": true}},
  "y": {"field": "depth", "type": "quantitative", "stack": null, "scale": {"domain": [-17, 387], "nice": false}, "axis": {"values": [0, 100, 200, 300], "tickCount": 10, "title": null, "grid": true}}
 }},
{"transform": [{"aggregate": [{"op": "count", "as": "n"}], "groupby": ["gene"]}],
 "mark": {"type": "rect", "fill": "#d1d1d1"},
 "encoding": {"y": {"datum": 347}, "y2": {"datum": 387}}},
{"transform": [{"aggregate": [{"op": "count", "as": "n"}], "groupby": ["gene"]}],
 "mark": {"type": "text", "fontSize": 4.8, "color": "#333333", "baseline": "middle"},
 "encoding": {"text": {"field": "gene", "type": "nominal"}, "y": {"datum": 367}}}
]
}
}
],
"title": {"text": "Read depth", "orient": "left", "anchor": "middle", "fontSize": 5.5, "fontWeight": "normal", "offset": 0, "color": "#1a1a1a"}
}
],
"spacing": 15
}
],
"spacing": 1
},
{
"data": {"values": [{}]},
"width": 3, "height": 625, "view": {"stroke": null},
"mark": {"type": "rule", "color": "#9e9e9e", "strokeWidth": 2.5},
"encoding": {"x": {"datum": 0.5, "type": "quantitative", "scale": {"domain": [0, 1]}, "axis": null},
 "y": {"datum": 0.025, "type": "quantitative", "scale": {"domain": [0, 1]}, "axis": null}, "y2": {"datum": 0.978}}
},
{
"vconcat": [
{
"vconcat": [
{
"data": {"values": [{}]},
"width": 328, "height": 36, "view": {"stroke": null},
"layer": [
{"mark": {"type": "rect", "fill": "#b4b4b4", "stroke": "#6b6b6b", "strokeWidth": 1},
 "encoding": {"x": {"datum": 0.4329, "type": "quantitative", "scale": {"domain": [0, 1]}, "axis": null}, "x2": {"datum": 0.625},
  "y": {"datum": 0.028, "type": "quantitative", "scale": {"domain": [0, 1]}, "axis": null}, "y2": {"datum": 1}}},
{"mark": {"type": "text", "font": "Liberation Serif", "fontSize": 21, "color": "#111111", "baseline": "middle"},
 "encoding": {"text": {"value": "3761"}, "x": {"datum": 0.529, "type": "quantitative"}, "y": {"datum": 0.5, "type": "quantitative"}}},
{"mark": {"type": "text", "font": "Liberation Sans", "fontWeight": "bold", "fontSize": 16, "align": "left", "baseline": "middle", "color": "#000000"},
 "encoding": {"text": {"value": "B"}, "x": {"datum": -0.0366, "type": "quantitative"}, "y": {"datum": 0.82, "type": "quantitative"}}}
]
},
{
"hconcat": [
{
"data": {"name": "B"},
"facet": {"field": "gene", "type": "nominal", "header": {"labels": false, "title": null, "labelExpr": "''", "labelFontSize": 1, "labelPadding": 0}, "sort": ["R1","R2","R2-like","R3a","R3b","Rpi-abpt","Rpi-blb1","Rpi-blb2","Rpi-blb3","Rpi-ptat1","Rpi-sto1","Rpi-vnt1.1"]},
"columns": 4,
"bounds": "flush",
"spacing": {"row": 9, "column": 2},
"resolve": {"scale": {"x": "independent"}},
"title": {"text": "Position (bp)", "orient": "bottom", "anchor": "middle", "frame": "bounds", "fontSize": 6, "fontWeight": "normal", "offset": 1, "color": "#1a1a1a"},
"spec": {
"width": 80.5, "height": 71,
"layer": [
{"transform": [{"filter": "!isValid(datum.pos2)"}],
 "mark": {"type": "area", "color": "#228B22", "opacity": 1},
 "encoding": {
  "x": {"field": "pos", "type": "quantitative", "scale": {"nice": false, "zero": false}, "axis": {"title": null, "format": "d", "tickCount": 3.7, "labelFlush": false, "labelOverlap": false, "grid": true}},
  "y": {"field": "depth", "type": "quantitative", "stack": null, "scale": {"domain": [-10, 213], "nice": false}, "axis": {"values": [0, 50, 100, 150], "tickCount": 10, "title": null, "grid": true}}
 }},
{"transform": [{"filter": "isValid(datum.pos2)"}],
 "mark": {"type": "rect", "fill": "#e69a9a", "fillOpacity": 0.5, "stroke": "#b5483f", "strokeWidth": 1.3},
 "encoding": {"x": {"field": "pos", "type": "quantitative"}, "x2": {"field": "pos2"}, "y": {"datum": 0}, "y2": {"datum": 191}}},
{"transform": [{"aggregate": [{"op": "count", "as": "n"}], "groupby": ["gene"]}],
 "mark": {"type": "rect", "fill": "#d1d1d1"},
 "encoding": {"y": {"datum": 191}, "y2": {"datum": 213}}},
{"transform": [{"aggregate": [{"op": "count", "as": "n"}], "groupby": ["gene"]}],
 "mark": {"type": "text", "fontSize": 4.8, "color": "#333333", "baseline": "middle"},
 "encoding": {"text": {"field": "gene", "type": "nominal"}, "y": {"datum": 202}}}
]
}
}
],
"title": {"text": "Read depth", "orient": "left", "anchor": "middle", "fontSize": 5.5, "fontWeight": "normal", "offset": 0, "color": "#1a1a1a"}
}
],
"spacing": 15
},
{
"data": {"values": [{}]},
"width": 328, "height": 36, "view": {"stroke": null},
"mark": {"type": "rule", "color": "#8c8c8c", "strokeWidth": 3, "strokeDash": [9, 5]},
"encoding": {"x": {"datum": -0.05, "type": "quantitative", "scale": {"domain": [0, 1]}, "axis": null}, "x2": {"datum": 1.02},
 "y": {"datum": 0.9, "type": "quantitative", "scale": {"domain": [0, 1]}, "axis": null}}
},
{
"vconcat": [
{
"data": {"values": [{}]},
"width": 328, "height": 36, "view": {"stroke": null},
"layer": [
{"mark": {"type": "rect", "fill": "#b4b4b4", "stroke": "#6b6b6b", "strokeWidth": 1},
 "encoding": {"x": {"datum": 0.253, "type": "quantitative", "scale": {"domain": [0, 1]}, "axis": null}, "x2": {"datum": 0.805},
  "y": {"datum": 0.028, "type": "quantitative", "scale": {"domain": [0, 1]}, "axis": null}, "y2": {"datum": 1}}},
{"mark": {"type": "text", "font": "Liberation Serif", "fontSize": 21, "color": "#111111", "baseline": "middle"},
 "encoding": {"text": {"value": "3762 x 3761 S bulk"}, "x": {"datum": 0.529, "type": "quantitative"}, "y": {"datum": 0.5, "type": "quantitative"}}},
{"mark": {"type": "text", "font": "Liberation Sans", "fontWeight": "bold", "fontSize": 16, "align": "left", "baseline": "middle", "color": "#000000"},
 "encoding": {"text": {"value": "D"}, "x": {"datum": -0.0366, "type": "quantitative"}, "y": {"datum": 0.35, "type": "quantitative"}}}
]
},
{
"hconcat": [
{
"data": {"name": "D"},
"facet": {"field": "gene", "type": "nominal", "header": {"labels": false, "title": null, "labelExpr": "''", "labelFontSize": 1, "labelPadding": 0}, "sort": ["R1","R2","R2-like","R3a","R3b","Rpi-abpt","Rpi-blb1","Rpi-blb2","Rpi-blb3","Rpi-ptat1","Rpi-sto1","Rpi-vnt1.1"]},
"columns": 4,
"bounds": "flush",
"spacing": {"row": 9, "column": 2},
"resolve": {"scale": {"x": "independent"}},
"title": {"text": "Position (bp)", "orient": "bottom", "anchor": "middle", "frame": "bounds", "fontSize": 6, "fontWeight": "normal", "offset": 1, "color": "#1a1a1a"},
"spec": {
"width": 80.5, "height": 71,
"layer": [
{"transform": [{"filter": "!isValid(datum.pos2)"}],
 "mark": {"type": "area", "color": "#228B22", "opacity": 1},
 "encoding": {
  "x": {"field": "pos", "type": "quantitative", "scale": {"nice": false, "zero": false}, "axis": {"title": null, "format": "d", "tickCount": 3.7, "labelFlush": false, "labelOverlap": false, "grid": true}},
  "y": {"field": "depth", "type": "quantitative", "stack": null, "scale": {"domain": [-14, 316], "nice": false}, "axis": {"values": [0, 100, 200], "tickCount": 10, "title": null, "grid": true}}
 }},
{"transform": [{"filter": "isValid(datum.pos2)"}],
 "mark": {"type": "rect", "fill": "#e69a9a", "fillOpacity": 0.5, "stroke": "#b5483f", "strokeWidth": 1.3},
 "encoding": {"x": {"field": "pos", "type": "quantitative"}, "x2": {"field": "pos2"}, "y": {"datum": 0}, "y2": {"datum": 283}}},
{"transform": [{"aggregate": [{"op": "count", "as": "n"}], "groupby": ["gene"]}],
 "mark": {"type": "rect", "fill": "#d1d1d1"},
 "encoding": {"y": {"datum": 283}, "y2": {"datum": 316}}},
{"transform": [{"aggregate": [{"op": "count", "as": "n"}], "groupby": ["gene"]}],
 "mark": {"type": "text", "fontSize": 4.8, "color": "#333333", "baseline": "middle"},
 "encoding": {"text": {"field": "gene", "type": "nominal"}, "y": {"datum": 299.5}}}
]
}
}
],
"title": {"text": "Read depth", "orient": "left", "anchor": "middle", "fontSize": 5.5, "fontWeight": "normal", "offset": 0, "color": "#1a1a1a"}
}
],
"spacing": 15
}
],
"spacing": 1
}
],
"spacing": 2,
"config": {
"font": "Liberation Sans",
"view": {"stroke": "#cccccc", "strokeWidth": 0.8},
"header": {"labels": false, "title": null},
"headerFacet": {"labels": false, "title": null},
"axis": {"labelFontSize": 4.5, "labelColor": "#4d4d4d", "tickSize": 2, "tickColor": "#4d4d4d", "tickWidth": 0.6, "labelPadding": 0.5, "domain": false, "gridColor": "#ebebeb", "gridWidth": 0.7, "titleFontSize": 5.5, "titleFontWeight": "normal", "titleColor": "#1a1a1a", "titlePadding": 2, "minExtent": 0}
}
}
